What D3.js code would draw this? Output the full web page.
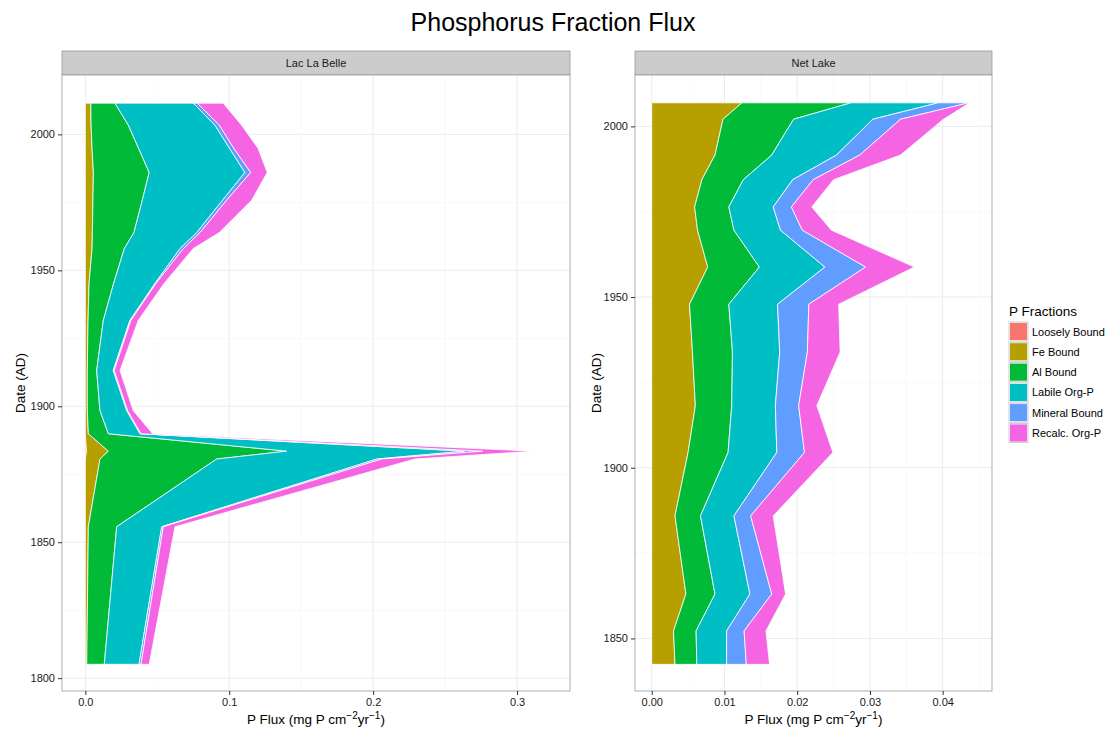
<!DOCTYPE html>
<html><head><meta charset="utf-8">
<script src="https://cdn.jsdelivr.net/npm/d3@7"></script>
<style>body{margin:0;background:#fff;} svg{display:block;font-family:"Liberation Sans",Arial,sans-serif;}</style>
</head><body>
<svg id="chart" width="1109" height="730"></svg>
<script>
// ---------- data ----------
const fractions = ["Loosely Bound","Fe Bound","Al Bound","Labile Org-P","Mineral Bound","Recalc. Org-P"];
const colors = ["#F8766D","#B79F00","#00BA38","#00BFC4","#619CFF","#F564E3"];

const llbYears   = [2011.5,2003.4,1994.8,1986.0,1975.8,1963.9,1958.0,1945.2,1931.6,1913.2,1898.4,1889.9,1883.5,1880.6,1855.7,1805.1];
const llbLoosely = [0,0,0,0,0,0,0,0,0,0,0,0,0.0008,0,0,0];
const llbFe      = [0.0038,0.0040,0.0047,0.0056,0.0053,0.0049,0.0047,0.0026,0.0019,0.0014,0.0014,0.0021,0.0152,0.0102,0.0021,0.0010];
const llbAl      = [0.0168,0.0259,0.0324,0.0388,0.0343,0.0289,0.0224,0.0171,0.0106,0.0065,0.0088,0.0139,0.1239,0.0811,0.0197,0.0122];
const llbLabile  = [0.0544,0.0602,0.0632,0.0665,0.0558,0.0436,0.0387,0.0287,0.0185,0.0115,0.0186,0.0220,0.1238,0.1113,0.0313,0.0241];
const llbMineral = [0.0028,0.0030,0.0030,0.0040,0.0028,0.0023,0.0023,0.0007,0.0007,0.0007,0.0006,0.0007,0.0125,0.0034,0.0011,0.0014];
const llbRecalc  = [0.0180,0.0155,0.0168,0.0115,0.0174,0.0134,0.0069,0.0056,0.0051,0.0040,0.0039,0.0081,0.0352,0.0230,0.0081,0.0057];

const netYears   = [2006.9,2002.1,1991.6,1984.4,1976.4,1969.6,1958.8,1947.9,1933.9,1918.2,1904.5,1885.9,1863.0,1852.2,1842.4];
const netLoosely = [0,0,0,0,0,0,0,0,0,0,0,0,0,0,0];
const netFe      = [0.0124,0.0098,0.0087,0.0069,0.0059,0.0063,0.0077,0.0052,0.0056,0.0060,0.0050,0.0032,0.0047,0.0030,0.0032];
const netAl      = [0.0150,0.0097,0.0078,0.0057,0.0047,0.0050,0.0071,0.0054,0.0055,0.0050,0.0055,0.0035,0.0040,0.0031,0.0030];
const netLabile  = [0.0120,0.0109,0.0089,0.0068,0.0061,0.0064,0.0090,0.0067,0.0065,0.0060,0.0067,0.0046,0.0048,0.0042,0.0041];
const netMineral = [0.0042,0.0038,0.0032,0.0028,0.0025,0.0030,0.0056,0.0043,0.0038,0.0032,0.0038,0.0023,0.0030,0.0024,0.0027];
const netRecalc  = [0.0001,0.0059,0.0056,0.0028,0.0028,0.0040,0.0067,0.0041,0.0045,0.0025,0.0039,0.0031,0.0019,0.0030,0.0032];

const llbXTicks = [0,0.1,0.2,0.3];
const llbXMinor = [0.05,0.15,0.25];
const llbYTicks = [1800,1850,1900,1950,2000];
const llbYMinor = [1825,1875,1925,1975];
const netXTicks = [0,0.01,0.02,0.03,0.04];
const netXMinor = [0.005,0.015,0.025,0.035,0.045];
const netYTicks = [1850,1900,1950,2000];
const netYMinor = [1875,1925,1975];

// ---------- layout ----------
const svg = d3.select("#chart");
const panels = [
  {name:"Lac La Belle", years:llbYears, series:[llbLoosely,llbFe,llbAl,llbLabile,llbMineral,llbRecalc],
   left:62, right:570, ytitle:20, xdom:[-0.0162,0.3368], ydom:[1795.28,2021.85], xt:llbXTicks, xm:llbXMinor, yt:llbYTicks, ym:llbYMinor, fmt:d3.format(".1f")},
  {name:"Net Lake", years:netYears, series:[netLoosely,netFe,netAl,netLabile,netMineral,netRecalc],
   left:635, right:992, ytitle:596, xdom:[-0.0023,0.04678], ydom:[1834.6,2015.05], xt:netXTicks, xm:netXMinor, yt:netYTicks, ym:netYMinor, fmt:d3.format(".2f")}
];
const pTop = 75, pBottom = 691, stripTop = 51;

svg.append("text").attr("x",553).attr("y",31).attr("text-anchor","middle")
  .attr("font-size",25).attr("fill","#000").text("Phosphorus Fraction Flux");

panels.forEach(p=>{
  const x = d3.scaleLinear().domain(p.xdom).range([p.left,p.right]);
  const y = d3.scaleLinear().domain(p.ydom).range([pBottom,pTop]);
  const g = svg.append("g");
  // strip
  g.append("rect").attr("x",p.left).attr("y",stripTop).attr("width",p.right-p.left).attr("height",pTop-stripTop)
    .attr("fill","#cccccc").attr("stroke","#999").attr("stroke-width",0.8);
  g.append("text").attr("x",(p.left+p.right)/2).attr("y",(stripTop+pTop)/2+4).attr("text-anchor","middle")
    .attr("font-size",11).attr("fill","#1a1a1a").text(p.name);
  // grid
  g.append("rect").attr("x",p.left).attr("y",pTop).attr("width",p.right-p.left).attr("height",pBottom-pTop).attr("fill","#fff");
  p.xm.forEach(v=>g.append("line").attr("x1",x(v)).attr("x2",x(v)).attr("y1",pTop).attr("y2",pBottom).attr("stroke","#f5f5f5").attr("stroke-width",0.6));
  p.ym.forEach(v=>g.append("line").attr("y1",y(v)).attr("y2",y(v)).attr("x1",p.left).attr("x2",p.right).attr("stroke","#f5f5f5").attr("stroke-width",0.6));
  p.xt.forEach(v=>g.append("line").attr("x1",x(v)).attr("x2",x(v)).attr("y1",pTop).attr("y2",pBottom).attr("stroke","#ebebeb").attr("stroke-width",1));
  p.yt.forEach(v=>g.append("line").attr("y1",y(v)).attr("y2",y(v)).attr("x1",p.left).attr("x2",p.right).attr("stroke","#ebebeb").attr("stroke-width",1));
  // stacked areas
  const rows = p.years.map((yr,i)=>{const o={year:yr}; fractions.forEach((f,k)=>o[f]=p.series[k][i]); return o;});
  const stack = d3.stack().keys(fractions)(rows);
  const area = d3.area().y(d=>y(d.data.year)).x0(d=>x(d[0])).x1(d=>x(d[1]));
  g.selectAll("path.a").data(stack).join("path").attr("class","a")
    .attr("d",area).attr("fill",(d,i)=>colors[i]).attr("stroke","#fff").attr("stroke-width",0.8).attr("stroke-linejoin","miter");
  // border
  g.append("rect").attr("x",p.left).attr("y",pTop).attr("width",p.right-p.left).attr("height",pBottom-pTop)
    .attr("fill","none").attr("stroke","#999").attr("stroke-width",0.8);
  // axes
  const ax = d3.axisBottom(x).tickValues(p.xt).tickFormat(p.fmt).tickSize(4).tickPadding(3);
  const ay = d3.axisLeft(y).tickValues(p.yt).tickFormat(d3.format("d")).tickSize(4).tickPadding(3);
  const gx = svg.append("g").attr("transform",`translate(0,${pBottom})`).call(ax);
  const gy = svg.append("g").attr("transform",`translate(${p.left},0)`).call(ay);
  [gx,gy].forEach(a=>{
    a.select(".domain").remove();
    a.selectAll(".tick line").attr("stroke","#333");
    a.selectAll(".tick text").attr("font-size",11).attr("fill","#1a1a1a").attr("font-family","Liberation Sans, Arial, sans-serif");
  });
  // axis titles
  const xt = svg.append("text").attr("x",(p.left+p.right)/2).attr("y",724).attr("text-anchor","middle")
    .attr("font-size",13.5).attr("fill","#000");
  xt.append("tspan").text("P Flux (mg P cm");
  xt.append("tspan").attr("dy",-5).attr("font-size",10).text("\u22122");
  xt.append("tspan").attr("dy",5).text("yr");
  xt.append("tspan").attr("dy",-5).attr("font-size",10).text("\u22121");
  xt.append("tspan").attr("dy",5).text(")");
  svg.append("text").attr("transform",`translate(${p.ytitle+5},${(pTop+pBottom)/2}) rotate(-90)`)
    .attr("text-anchor","middle").attr("font-size",13.5).attr("fill","#000").text("Date (AD)");
});

// legend
const lg = svg.append("g").attr("transform","translate(1008,0)");
lg.append("text").attr("x",1).attr("y",316).attr("font-size",13.5).attr("fill","#000").text("P Fractions");
fractions.forEach((f,i)=>{
  const yy = 322 + i*20.3;
  lg.append("rect").attr("x",1).attr("y",yy).attr("width",19).attr("height",19).attr("fill","#f2f2f2");
  lg.append("rect").attr("x",1.5).attr("y",yy+0.5).attr("width",18).attr("height",18).attr("fill",colors[i]).attr("stroke","#fff").attr("stroke-width",0.8);
  lg.append("rect").attr("x",1).attr("y",yy).attr("width",19).attr("height",19).attr("fill","none").attr("stroke","#d0d0d0").attr("stroke-width",1);
  lg.append("text").attr("x",24).attr("y",yy+13.5).attr("font-size",11).attr("fill","#000").text(f);
});
</script>
</body></html>
